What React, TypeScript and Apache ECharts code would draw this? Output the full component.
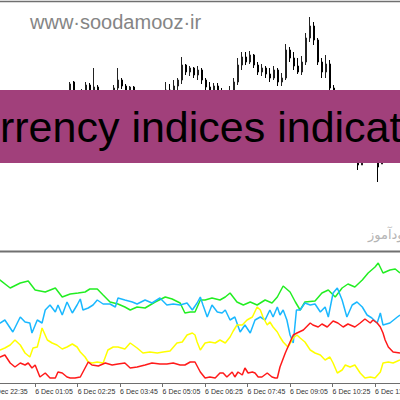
import React, { useEffect, useRef } from "react";
import * as echarts from "echarts";

// ---- Top panel: candles (price in chart points) ----
const candleOpen = [120,126,122,128,124,131,135,130,136,141,138,143,140,146,150,147,152,155,168,155,152,158,165,160,163,158,154,150,155,162,170,164,160,163,156,152,148,144,146,150,147,152,160,158,164,170,185,178,182,175,180,170,163,160,164,158,155,152,158,168,185,193,188,195,185,178,182,176,172,180,168,172,200,192,184,178,188,212,224,210,188,178,186,162,156,145,138,130,122,112,85,95,100,96,90,86,96,104,100,106];
const candleClose = [126,122,128,124,131,135,130,136,141,138,143,140,146,150,147,152,155,166,155,152,158,165,160,163,158,154,150,155,162,170,164,160,163,156,152,148,144,146,150,147,152,160,158,164,170,185,178,182,175,180,170,163,160,164,158,155,152,158,168,185,193,188,195,185,178,182,176,172,180,168,172,200,192,184,178,188,212,224,210,188,178,186,162,156,145,138,130,122,112,85,95,100,96,90,83,96,104,100,106,110];
const candleLow = [116,118,119,121,122,128,127,128,133,135,136,137,138,143,144,145,149,150,150,146,148,155,157,156,154,150,146,147,152,158,161,157,156,152,148,144,140,140,143,144,145,150,154,156,160,166,175,174,172,170,166,158,156,155,154,150,148,149,155,165,180,185,186,182,175,174,172,168,170,164,164,170,188,180,176,175,185,208,205,185,172,172,158,150,140,132,125,117,106,80,88,90,93,88,68,86,94,97,98,103];
const candleHigh = [130,131,132,133,135,139,138,140,144,145,147,146,149,153,154,155,158,168,169,158,161,168,167,182,165,160,156,158,165,182,172,166,164,164,158,155,151,149,153,152,155,168,166,170,172,193,186,184,183,184,182,172,168,167,167,162,158,164,172,192,198,198,199,196,188,186,184,182,184,182,177,206,203,198,192,194,217,233,228,212,192,195,190,165,158,148,141,133,125,115,100,105,104,99,94,100,107,108,110,113];

// ---- Bottom panel: currency index lines, [minutes from 6 Dec 00:00, level] ----
const greenLine = [[-20,103],[-1,103],[18,95],[37,100],[52,102],[65,93],[84,91],[103,95],[116,86],[131,89],[146,90],[159,91],[168,94],[182,94],[193,88],[206,81],[221,79],[234,76],[244,73],[257,76],[272,75],[291,81],[310,86],[323,84],[338,80],[347,70],[357,71],[366,71],[376,83],[385,83],[398,85],[413,83],[423,86],[432,90],[445,81],[457,78],[470,81],[483,78],[498,83],[511,80],[521,86],[532,97],[545,91],[555,81],[564,73],[573,81],[592,82],[605,90],[617,93],[630,86],[643,95],[654,99],[667,96],[681,103],[692,110],[705,116],[711,120],[720,110],[733,113],[743,114],[752,110]];
const blueLine = [[-20,58],[-1,60],[8,63],[23,51],[37,66],[46,61],[55,60],[59,50],[69,63],[78,60],[84,73],[93,78],[103,71],[108,78],[116,68],[125,81],[135,70],[144,78],[150,84],[155,73],[165,75],[174,78],[182,83],[193,79],[206,79],[216,76],[221,85],[234,83],[248,81],[257,79],[272,83],[285,80],[300,85],[313,78],[325,79],[338,78],[351,80],[361,73],[370,80],[376,86],[381,78],[389,66],[398,78],[408,71],[417,70],[423,73],[432,63],[441,66],[451,51],[460,58],[470,50],[479,63],[489,66],[498,63],[507,73],[513,66],[521,76],[526,68],[532,73],[539,63],[545,48],[551,40],[557,73],[564,73],[573,80],[583,78],[592,79],[602,71],[611,76],[617,66],[626,90],[634,95],[643,83],[652,66],[662,78],[671,81],[681,76],[690,68],[699,65],[709,60],[715,70],[720,58],[733,60],[747,66],[752,68]];
const yellowLine = [[-20,32],[-1,33],[8,35],[18,38],[27,43],[37,38],[46,30],[55,26],[61,35],[69,36],[74,46],[78,55],[88,43],[97,40],[106,38],[116,34],[125,36],[135,39],[144,36],[150,31],[159,26],[165,21],[172,20],[182,21],[193,20],[202,33],[212,36],[221,36],[234,34],[244,40],[257,35],[268,30],[281,31],[295,30],[306,31],[319,32],[332,40],[342,41],[351,48],[361,50],[366,48],[370,41],[376,33],[385,40],[394,41],[404,40],[413,43],[423,40],[432,46],[438,52],[445,58],[455,58],[464,63],[474,66],[483,76],[489,73],[494,66],[502,58],[507,61],[513,56],[521,51],[526,46],[532,41],[541,36],[551,45],[558,48],[564,45],[573,41],[583,33],[592,30],[602,28],[611,23],[620,26],[626,20],[634,10],[643,13],[649,18],[658,16],[667,18],[677,10],[686,5],[696,6],[705,5],[715,11],[720,20],[730,21],[739,20],[752,23]];
const redLine = [[-20,25],[-1,26],[8,28],[18,20],[27,16],[37,20],[46,18],[52,20],[59,15],[65,18],[74,6],[84,10],[93,5],[103,5],[108,11],[116,10],[125,6],[131,5],[140,5],[150,6],[159,15],[165,21],[172,18],[184,17],[197,20],[210,18],[221,19],[234,20],[244,15],[257,16],[272,18],[285,20],[300,19],[313,19],[325,20],[338,18],[347,18],[357,21],[366,21],[376,11],[385,5],[394,6],[404,5],[413,10],[419,10],[426,6],[436,11],[441,6],[447,11],[455,8],[460,15],[466,10],[474,11],[479,10],[485,6],[492,6],[502,10],[511,6],[517,5],[521,5],[526,16],[536,30],[545,41],[551,48],[558,50],[570,53],[583,60],[588,58],[598,56],[605,59],[615,56],[626,62],[635,60],[645,56],[654,59],[667,56],[677,60],[686,64],[696,60],[701,63],[709,60],[715,56],[720,50],[724,43],[730,36],[739,31],[752,30]];

// ---- Time axis ticks ----
const tickMinutes = [-20, 65, 145, 225, 305, 385, 465, 545, 625, 705];
const tickLabels = ["6 Dec 22:35", "6 Dec 01:05", "6 Dec 02:25", "6 Dec 03:45", "6 Dec 05:05", "6 Dec 06:25", "6 Dec 07:45", "6 Dec 09:05", "6 Dec 10:25", "6 Dec 11:45"];

const bannerText = "Currency indices indicator";
const watermarkText = "www·soodamooz·ir";
const persianText = "سودآموز";

export default function App() {
  const ref = useRef<HTMLDivElement>(null);
  useEffect(() => {
    if (!ref.current) return;
    const chart = echarts.init(ref.current, undefined, { renderer: "svg" });
    const cats = candleOpen.map((_, i) => String(i));
    const candles = candleOpen.map((o, i) => [o, candleClose[i], candleLow[i], candleHigh[i]]);
    const lineSeries = (data: number[][], color: string) => ({
      type: "line",
      xAxisIndex: 1,
      yAxisIndex: 1,
      data,
      showSymbol: false,
      symbol: "none",
      lineStyle: { color, width: 1.5 },
      silent: true,
    });
    chart.setOption({
      animation: false,
      backgroundColor: "#ffffff",
      grid: [
        { left: 0, right: 0, top: 5, height: 245, containLabel: false, outerBoundsMode: "none" },
        { left: -10, right: 0, top: 253, height: 130, containLabel: false, outerBoundsMode: "none" },
      ],
      xAxis: [
        { type: "category", gridIndex: 0, data: cats, show: false, boundaryGap: true },
        {
          type: "value",
          gridIndex: 1,
          min: -20,
          max: 752,
          splitLine: { show: false },
          axisLine: { show: true, lineStyle: { color: "#6e6e6e", width: 1 } },
          axisTick: { show: true, length: 4, customValues: tickMinutes, lineStyle: { color: "#6e6e6e" } },
          axisLabel: {
            customValues: tickMinutes,
            formatter: (v: number) => {
              const idx = tickMinutes.indexOf(v);
              return idx >= 0 ? tickLabels[idx] : "";
            },
            align: "left",
            margin: 5,
            fontSize: 7,
            fontFamily: "Liberation Sans",
            color: "#333333",
            showMinLabel: true,
            showMaxLabel: true,
          },
        },
      ],
      yAxis: [
        { type: "value", gridIndex: 0, min: 0, max: 245, show: false },
        { type: "value", gridIndex: 1, min: 0, max: 130, show: false },
      ],
      series: [
        {
          type: "candlestick",
          xAxisIndex: 0,
          yAxisIndex: 0,
          data: candles,
          barWidth: 2,
          itemStyle: {
            color: "#ffffff",
            color0: "#000000",
            borderColor: "#222222",
            borderColor0: "#000000",
            borderWidth: 1,
          },
          silent: true,
        },
        lineSeries(greenLine, "#22ee22"),
        lineSeries(blueLine, "#1ab8ff"),
        lineSeries(yellowLine, "#ffff00"),
        lineSeries(redLine, "#ff1a1a"),
      ],
      graphic: [
        { type: "line", shape: { x1: 0, y1: 1.5, x2: 400, y2: 1.5 }, style: { stroke: "#707070", lineWidth: 1.5 }, z: 50 },
        { type: "line", shape: { x1: 0, y1: 251.5, x2: 400, y2: 251.5 }, style: { stroke: "#707070", lineWidth: 2 }, z: 50 },
        {
          type: "text",
          left: 30,
          top: 12,
          style: { text: watermarkText, fontSize: 20, fontFamily: "Liberation Sans", fill: "#858585" },
          z: 50,
        },
        {
          type: "text",
          x: 368,
          y: 228,
          style: { text: persianText, fontSize: 13, fontFamily: "DejaVu Sans", fill: "#b5b5b5", align: "left" },
          z: 50,
        },
        {
          type: "rect",
          shape: { x: 0, y: 90, width: 400, height: 73 },
          style: { fill: "#a1407b" },
          z: 100,
        },
        {
          type: "text",
          x: -55,
          y: 127,
          style: {
            text: bannerText,
            fontSize: 43,
            fontFamily: "Liberation Sans",
            fill: "#000000",
            align: "left",
            verticalAlign: "middle",
          },
          z: 101,
        },
      ],
    });
    return () => chart.dispose();
  }, []);
  return (
    <div
      ref={ref}
      style={{ position: "absolute", left: 0, top: 0, width: 400, height: 400, background: "#fff" }}
    />
  );
}
